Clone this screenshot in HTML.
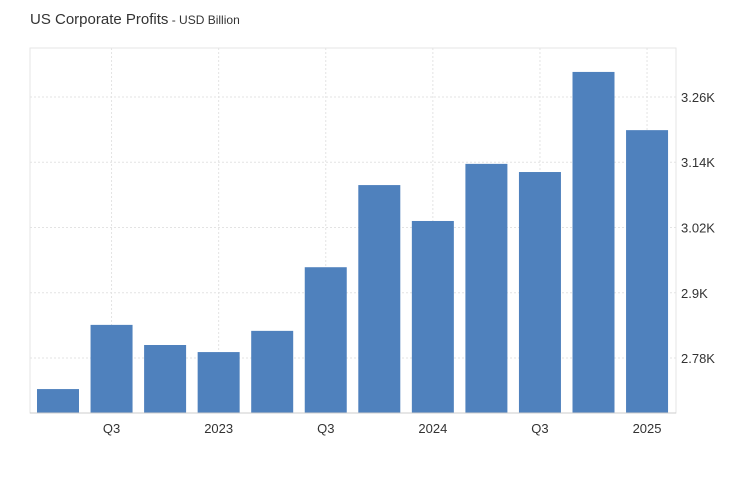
<!DOCTYPE html>
<html><head><meta charset="utf-8">
<style>
body{margin:0;background:#fff;width:741px;height:486px;overflow:hidden;font-family:"Liberation Sans",Arial,sans-serif;}
svg{display:block}
</style></head>
<body>
<svg id="chart" width="741" height="486">
<text x="30" y="24" font-size="15" fill="#333">US Corporate Profits<tspan font-size="12" fill="#333"> - USD Billion</tspan></text>
</svg>
<script>
const categories=["2022Q2","2022Q3","2022Q4","2023Q1","2023Q2","2023Q3","2023Q4","2024Q1","2024Q2","2024Q3","2024Q4","2025Q1"];
const values=[2.723,2.841,2.804,2.791,2.830,2.947,3.098,3.032,3.137,3.122,3.306,3.199];
const yTicks=[2.78,2.9,3.02,3.14,3.26];
const yTickLabels=["2.78K","2.9K","3.02K","3.14K","3.26K"];
const xLabels=["","Q3","","2023","","Q3","","2024","","Q3","","2025"];

const NS="http://www.w3.org/2000/svg";
const svgEl=document.getElementById('chart');
const pL=30,pR=676,pT=48,pB=413;
const yMin=2.679,yMax=3.35;
function yS(v){return pB-(v-yMin)/(yMax-yMin)*(pB-pT);}
const step=53.55;
function xc(i){return pL+28+step*i;}
function mk(t,a){const e=document.createElementNS(NS,t);for(const k in a)e.setAttribute(k,a[k]);svgEl.appendChild(e);return e;}

const frame=mk('rect',{x:pL,y:pT,width:pR-pL,height:pB-pT,fill:'none',stroke:'#e6e6e6'});


yTicks.forEach((v,i)=>{
  const g=mk('line',{x1:pL,x2:pR,y1:yS(v),y2:yS(v),stroke:'#e3e3e3','stroke-dasharray':'2,2'});
  
  
  const t=mk('text',{x:681,y:yS(v)+5,'font-size':'13',fill:'#333'});
  t.textContent=yTickLabels[i];
  
  
});
xLabels.forEach((l,i)=>{
  if(!l)return;
  const g=mk('line',{x1:xc(i),x2:xc(i),y1:pT,y2:pB,stroke:'#e3e3e3','stroke-dasharray':'2,2'});
  
  
  const t=mk('text',{x:xc(i),y:433,'font-size':'13',fill:'#333','text-anchor':'middle'});
  t.textContent=l;
  
  
});
const bw=42;
values.forEach((v,i)=>{
  const r=mk('rect',{x:xc(i)-bw/2,y:yS(v),width:bw,height:pB-yS(v),fill:'#4f81bd'});
  
  
});
const ax=mk('line',{x1:pL,x2:pR,y1:pB,y2:pB,stroke:'#ccc'});


</script>
</body></html>
